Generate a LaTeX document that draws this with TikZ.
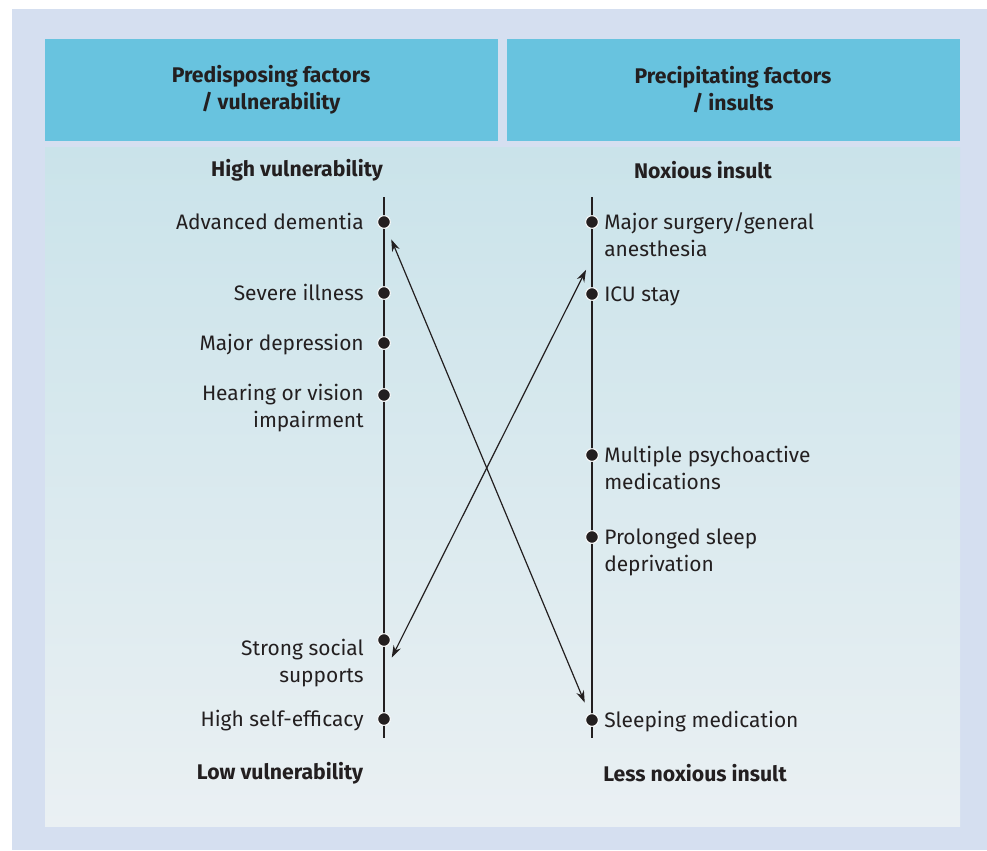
\documentclass[tikz,border=0pt]{standalone}
\usepackage{fontspec}
\setmainfont{Fira Sans}
\usetikzlibrary{arrows.meta}
\definecolor{framelilac}{RGB}{213,223,240}
\definecolor{headcyan}{RGB}{104,195,223}
\definecolor{paneltop}{RGB}{202,227,234}
\definecolor{panelbottom}{RGB}{234,240,243}
\definecolor{inkgray}{RGB}{35,31,32}

\tikzset{
    label/.style={font=\fontsize{15.7}{20.25}\selectfont, text=inkgray, inner sep=0pt},
    leftlabel/.style={label, align=right, anchor=base east},
    rightlabel/.style={label, align=left, anchor=base west},
    headlabel/.style={label, font=\fontsize{15.9}{20.25}\selectfont\bfseries, align=center},
    dot/.style={circle, fill=inkgray, draw=white, line width=0.75pt, inner sep=0pt, minimum size=9.5pt},
    axisline/.style={draw=inkgray, line width=1pt},
    linkarrow/.style={draw=inkgray, line width=0.9pt, {Stealth[length=9pt,width=6pt]}-{Stealth[length=9pt,width=6pt]}}
}

\begin{document}
\begin{tikzpicture}[x=0.75pt, y=-0.75pt]
    % Frame and panels
    \useasboundingbox[fill=white] (0,0) rectangle (987,850);
    \fill[framelilac] (12,9) rectangle (987,850);
    \shade[top color=paneltop, bottom color=panelbottom] (45,147) rectangle (960,826);
    \fill[headcyan] (45,39) rectangle (498,141);
    \fill[headcyan] (507,39) rectangle (960,141);
    \node[headlabel] (headleft) at (271,90) {Predisposing factors\\/ vulnerability};
    \node[headlabel] (headright) at (733,90) {Precipitating factors\\/ insults};

    % Scale ends
    \node[headlabel] (highvul) at (297,170) {High vulnerability};
    \node[headlabel] (lowvul) at (280,773) {Low vulnerability};
    \node[headlabel] (noxious) at (703,170) {Noxious insult};
    \node[headlabel] (lessnoxious) at (695,773) {Less noxious insult};

    % Vertical scales
    \coordinate (ltop) at (384,197);
    \coordinate (lbot) at (384,738);
    \coordinate (rtop) at (592,197);
    \coordinate (rbot) at (592,738);
    \draw[axisline] (ltop) -- (lbot);
    \draw[axisline] (rtop) -- (rbot);

    % Predisposing factors
    \node[dot] (pdem) at (384,222) {};
    \node[dot] (pill) at (384,293) {};
    \node[dot] (pdep) at (384,343) {};
    \node[dot] (psense) at (384,395) {};
    \node[dot] (psocial) at (384,640) {};
    \node[dot] (pefficacy) at (384,719) {};
    \node[leftlabel] at (364,229) {Advanced dementia};
    \node[leftlabel] at (364,300) {Severe illness};
    \node[leftlabel] at (364,350) {Major depression};
    \node[leftlabel] at (364,427) {Hearing or vision\\impairment};
    \node[leftlabel] at (364,682) {Strong social\\supports};
    \node[leftlabel] at (364,726) {High self-efficacy};

    % Precipitating factors
    \node[dot] (isurg) at (592,222) {};
    \node[dot] (iicu) at (592,294) {};
    \node[dot] (imeds) at (592,455) {};
    \node[dot] (isleep) at (592,537) {};
    \node[dot] (ihyp) at (592,720) {};
    \node[rightlabel] at (604,256) {Major surgery/general\\anesthesia};
    \node[rightlabel] at (604,301) {ICU stay};
    \node[rightlabel] at (604,489) {Multiple psychoactive\\medications};
    \node[rightlabel] at (604,571) {Prolonged sleep\\deprivation};
    \node[rightlabel] at (604,727) {Sleeping medication};

    % Crossing arrows
    \coordinate (iup) at (592,258);
    \coordinate (plow) at (384,673);
    \draw[linkarrow, shorten <=9pt, shorten >=9pt] (pdem) -- (ihyp);
    \draw[linkarrow, shorten <=10pt, shorten >=13pt] (iup) -- (plow);
\end{tikzpicture}
\end{document}
